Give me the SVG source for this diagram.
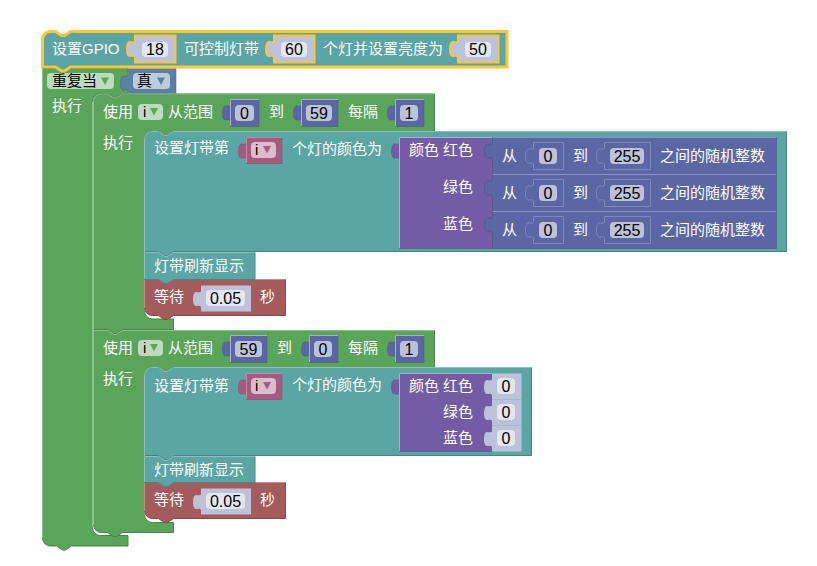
<svg xmlns="http://www.w3.org/2000/svg" width="817" height="566" viewBox="0 0 817 566">
<style>
text{font-family:"Liberation Sans","Noto Sans CJK SC",sans-serif;font-size:15px;fill:#fff;white-space:pre}
text.f{fill:#000}
text.c{text-anchor:middle;font-size:16px}
.g{fill:#5ba55b;stroke:#498449}
.t{fill:#5ba5a5;stroke:#498484}
.m{fill:#5b67a5;stroke:#495284;stroke-opacity:.5}
.n{fill:#5b67a5;stroke:#8088bb}
.p{fill:#745ba5;stroke:#5d4984;stroke-opacity:.5}
.r{fill:#a55b5b;stroke:#844949}
.v{fill:#a55b80;stroke:#844966;stroke-opacity:.5}
.l{fill:#5b80a5;stroke:#496684;stroke-opacity:.5}
.s{fill:#bdc2db;stroke:none}
.hg,.ht,.hm,.hp,.hr,.hv,.hl,.hs,.hn{fill:none}
.hg{stroke:#8cc08c}.ht{stroke:#8cc0c0}.hm{stroke:#a9afd0}.hn{stroke:#8c95c0}.hp{stroke:#b5a8d2}.hr{stroke:#c08c8c}.hv{stroke:#c08ca6}.hl{stroke:#8ca6c0}.hs{stroke:#dfe1ee}
.y{fill:none;stroke:#fcc63a;stroke-width:3}
.fg{fill:#bddbbd}.fl{fill:#bdccdb}.fv{fill:#dbbdcc}.fm{fill:#bdc2db}.fs{fill:#e4e6f1}
.ag{fill:#5ba55b}.al{fill:#5b80a5}.av{fill:#a55b80}
</style>
<g id="repeat">
<path class="g" d="M42.500,68.500H128V93.500H122.500l-6,4-3,0-6,-4H100.500a8,8 0 0 0 -8,8V527.500a8,8 0 0 0 8,8H128V546H71.500l-6,4-3,0-6,-4H50.500a8,8 0 0 1 -8,-8Z"/>
<path class="hg" d="M42.500,68.500V538"/>
<path class="hg" d="M92.500,102V527"/>
<rect class="fg" x="47" y="73" width="67" height="16" rx="4"/>
<text class="f" x="52" y="86">重复当</text>
<polygon class="ag" points="101,77.500 109,77.500 105,85"/>
<text x="52" y="111">执行</text>
</g>
<g id="cond">
<path class="l" d="M128.500,68.500h47.500v25h-47.500V91c-1,-2 -3,-1 -5,-1c-2,0 -3,-3 -3,-6.500c0,-4 1,-7.500 3,-7.500c2,0 5,1 5,-1z"/>
<rect class="fl" x="133" y="73" width="37" height="16" rx="4"/>
<text class="f" x="137" y="86">真</text>
<polygon class="al" points="157,77.500 165,77.500 161,85"/>
</g>
<g id="for1">
<path class="g" d="M93.500,102a8,8 0 0 1 8,-8H107.500l6,4 3,0 6,-4H434.500V131.500H173.500l-6,4-3,0-6,-4H152.500a8,8 0 0 0 -8,8V311a8,8 0 0 0 8,8H173.500V329.500H122.500l-6,4-3,0-6,-4H93.500Z"/>
<path class="hg" d="M93.500,330V102a8,8 0 0 1 8,-8H107.500l6,4 3,0 6,-4H434"/>
<path class="hg" d="M144.500,139V311"/>
<text x="103" y="117">使用</text>
<rect class="fg" x="138" y="104" width="25" height="16" rx="4"/>
<text class="f" x="143" y="117">i</text>
<polygon class="ag" points="150,108 158,108 154,115.500"/>
<text x="168" y="117">从范围</text>
<path class="m" d="M230.500,99.500h28.500v27h-28.500V121c-1,-2 -3,-1 -5,-1c-2,0 -3,-3 -3,-6.500c0,-4 1,-7.500 3,-7.500c2,0 5,1 5,-1z"/><path class="hm" d="M230.500,126V99.500H259"/>
<rect class="fm" x="235" y="105" width="19" height="16" rx="4"/><text class="f c" x="244.500" y="119">0</text>
<text x="269" y="117">到</text>
<path class="m" d="M301.500,99.500h36.500v27h-36.500V121c-1,-2 -3,-1 -5,-1c-2,0 -3,-3 -3,-6.500c0,-4 1,-7.500 3,-7.500c2,0 5,1 5,-1z"/><path class="hm" d="M301.500,126V99.500H338"/>
<rect class="fm" x="306" y="105" width="26" height="16" rx="4"/><text class="f c" x="319" y="119">59</text>
<text x="348" y="117">每隔</text>
<path class="m" d="M395.500,99.500h28.500v27h-28.500V121c-1,-2 -3,-1 -5,-1c-2,0 -3,-3 -3,-6.500c0,-4 1,-7.500 3,-7.500c2,0 5,1 5,-1z"/><path class="hm" d="M395.500,126V99.500H424"/>
<rect class="fm" x="400" y="105" width="18" height="16" rx="4"/><text class="f c" x="409" y="119">1</text>
<text x="103" y="148">执行</text>
</g>
<g id="setpixel1">
<path class="t" d="M144.500,139.500a8,8 0 0 1 8,-8H158.500l6,4 3,0 6,-4H786.500V251.500H173.500l-6,4-3,0-6,-4H144.500Z"/>
<path class="ht" d="M144.500,252V139.500a8,8 0 0 1 8,-8H158.500l6,4 3,0 6,-4H786"/>
<text x="154" y="153">设置灯带第</text>
<path class="v" d="M246.500,137.500h35.500v26h-35.500V159c-1,-2 -3,-1 -5,-1c-2,0 -3,-3 -3,-6.500c0,-4 1,-7.500 3,-7.500c2,0 5,1 5,-1z"/><path class="hv" d="M246.500,163V137.500H282"/>
<rect class="fv" x="251" y="142" width="25" height="16" rx="4"/><text class="f" x="255" y="155">i</text>
<polygon class="av" points="263,146 271,146 267,153.500"/>
<text x="292" y="154">个灯的颜色为</text>
</g>
<g id="colour1">
<path class="p" d="M399.500,137.500H492.500V248.500H399.500V159c-1,-2 -3,-1 -5,-1c-2,0 -3,-3 -3,-6.500c0,-4 1,-7.500 3,-7.500c2,0 5,1 5,-1z"/><path class="hp" d="M399.500,248V137.500H492"/>
<text x="409" y="155">颜色</text><text x="443" y="155">红色</text>
<text x="443" y="192">绿色</text>
<text x="443" y="229">蓝色</text>
</g>
<g id="random1">
<path class="m" d="M492.500,137.500H776.500V174.500H492.500V159c-1,-2 -3,-1 -5,-1c-2,0 -3,-3 -3,-6.500c0,-4 1,-7.500 3,-7.500c2,0 5,1 5,-1z"/><path class="hn" d="M492.500,137.500H776"/>
<text x="502" y="161">从</text>
<path class="n" d="M533.500,142.500h30v27h-30V164c-1,-2 -3,-1 -5,-1c-2,0 -3,-3 -3,-6.500c0,-4 1,-7.500 3,-7.500c2,0 5,1 5,-1z"/>
<rect class="fm" x="539" y="148" width="18" height="16" rx="4"/><text class="f c" x="548" y="162">0</text>
<text x="573" y="161">到</text>
<path class="n" d="M604.500,142.500h46v27h-46V164c-1,-2 -3,-1 -5,-1c-2,0 -3,-3 -3,-6.500c0,-4 1,-7.500 3,-7.500c2,0 5,1 5,-1z"/>
<rect class="fm" x="610" y="148" width="34" height="16" rx="4"/><text class="f c" x="627" y="162">255</text>
<text x="660" y="161">之间的随机整数</text>
</g>
<g id="random2">
<path class="m" d="M492.500,174.500H776.500V211.500H492.500V196c-1,-2 -3,-1 -5,-1c-2,0 -3,-3 -3,-6.500c0,-4 1,-7.500 3,-7.500c2,0 5,1 5,-1z"/><path class="hn" d="M492.500,174.500H776"/>
<text x="502" y="198">从</text>
<path class="n" d="M533.500,179.500h30v27h-30V201c-1,-2 -3,-1 -5,-1c-2,0 -3,-3 -3,-6.500c0,-4 1,-7.500 3,-7.500c2,0 5,1 5,-1z"/>
<rect class="fm" x="539" y="185" width="18" height="16" rx="4"/><text class="f c" x="548" y="199">0</text>
<text x="573" y="198">到</text>
<path class="n" d="M604.500,179.500h46v27h-46V201c-1,-2 -3,-1 -5,-1c-2,0 -3,-3 -3,-6.500c0,-4 1,-7.500 3,-7.500c2,0 5,1 5,-1z"/>
<rect class="fm" x="610" y="185" width="34" height="16" rx="4"/><text class="f c" x="627" y="199">255</text>
<text x="660" y="198">之间的随机整数</text>
</g>
<g id="random3">
<path class="m" d="M492.500,211.500H776.500V248.500H492.500V233c-1,-2 -3,-1 -5,-1c-2,0 -3,-3 -3,-6.500c0,-4 1,-7.500 3,-7.500c2,0 5,1 5,-1z"/><path class="hn" d="M492.500,211.500H776"/>
<text x="502" y="235">从</text>
<path class="n" d="M533.500,216.500h30v27h-30V238c-1,-2 -3,-1 -5,-1c-2,0 -3,-3 -3,-6.500c0,-4 1,-7.500 3,-7.500c2,0 5,1 5,-1z"/>
<rect class="fm" x="539" y="222" width="18" height="16" rx="4"/><text class="f c" x="548" y="236">0</text>
<text x="573" y="235">到</text>
<path class="n" d="M604.500,216.500h46v27h-46V238c-1,-2 -3,-1 -5,-1c-2,0 -3,-3 -3,-6.500c0,-4 1,-7.500 3,-7.500c2,0 5,1 5,-1z"/>
<rect class="fm" x="610" y="222" width="34" height="16" rx="4"/><text class="f c" x="627" y="236">255</text>
<text x="660" y="235">之间的随机整数</text>
</g>
<g id="wait1">
<path class="r" d="M144.500,279.500H158.500l6,4 3,0 6,-4H285.500V315.500H173.500l-6,4-3,0-6,-4H152.500a8,8 0 0 1 -8,-8Z"/>
<path class="hr" d="M144.500,308V279.500H158.500l6,4 3,0 6,-4H285"/>
<text x="154" y="302">等待</text>
<path class="s" d="M201,285.500h50v26h-50V307c-1,-2 -3,-1 -5,-1c-2,0 -3,-3 -3,-6.500c0,-4 1,-7.500 3,-7.500c2,0 5,1 5,-1z"/>
<rect class="fs" x="206" y="290" width="39" height="16" rx="4"/><text class="f c" x="225.500" y="304">0.05</text>
<text x="260" y="302">秒</text>
</g>
<g id="show1">
<path class="t" d="M144.500,252.500H158.500l6,4 3,0 6,-4H255V279.500H173.500l-6,4-3,0-6,-4H144.500Z"/>
<path class="ht" d="M144.500,279V252.500H158.500l6,4 3,0 6,-4H254.500"/>
<text x="154" y="271">灯带刷新显示</text>
</g>
<g id="for2">
<path class="g" d="M93.500,330.500H107.500l6,4 3,0 6,-4H434.500V367.500H173.500l-6,4-3,0-6,-4H152.500a8,8 0 0 0 -8,8V514.500a8,8 0 0 0 8,8H173.500V532.500H122.500l-6,4-3,0-6,-4H101.500a8,8 0 0 1 -8,-8Z"/>
<path class="hg" d="M93.500,525V330.500H107.500l6,4 3,0 6,-4H434"/>
<path class="hg" d="M144.500,375V515"/>
<text x="103" y="353">使用</text>
<rect class="fg" x="138" y="340" width="25" height="16" rx="4"/>
<text class="f" x="143" y="353">i</text>
<polygon class="ag" points="150,344 158,344 154,351.500"/>
<text x="168" y="353">从范围</text>
<path class="m" d="M230.500,335.500h36.500v27h-36.500V357c-1,-2 -3,-1 -5,-1c-2,0 -3,-3 -3,-6.500c0,-4 1,-7.500 3,-7.500c2,0 5,1 5,-1z"/><path class="hm" d="M230.500,362V335.500H267"/>
<rect class="fm" x="235" y="341" width="27" height="16" rx="4"/><text class="f c" x="248.500" y="355">59</text>
<text x="277" y="353">到</text>
<path class="m" d="M309.500,335.500h28.500v27h-28.500V357c-1,-2 -3,-1 -5,-1c-2,0 -3,-3 -3,-6.500c0,-4 1,-7.500 3,-7.500c2,0 5,1 5,-1z"/><path class="hm" d="M309.500,362V335.500H338"/>
<rect class="fm" x="314" y="341" width="18" height="16" rx="4"/><text class="f c" x="323" y="355">0</text>
<text x="348" y="353">每隔</text>
<path class="m" d="M395.500,335.500h28.500v27h-28.500V357c-1,-2 -3,-1 -5,-1c-2,0 -3,-3 -3,-6.500c0,-4 1,-7.500 3,-7.500c2,0 5,1 5,-1z"/><path class="hm" d="M395.500,362V335.500H424"/>
<rect class="fm" x="400" y="341" width="18" height="16" rx="4"/><text class="f c" x="409" y="355">1</text>
<text x="103" y="384">执行</text>
</g>
<g id="setpixel2">
<path class="t" d="M144.500,375.500a8,8 0 0 1 8,-8H158.500l6,4 3,0 6,-4H531.500V455.500H173.500l-6,4-3,0-6,-4H144.500Z"/>
<path class="ht" d="M144.500,456V375.500a8,8 0 0 1 8,-8H158.500l6,4 3,0 6,-4H531"/>
<text x="154" y="391">设置灯带第</text>
<path class="v" d="M246.500,373.500h35.500v26h-35.500V395c-1,-2 -3,-1 -5,-1c-2,0 -3,-3 -3,-6.500c0,-4 1,-7.500 3,-7.500c2,0 5,1 5,-1z"/><path class="hv" d="M246.500,399V373.500H282"/>
<rect class="fv" x="251" y="378" width="25" height="16" rx="4"/><text class="f" x="255" y="391">i</text>
<polygon class="av" points="263,382 271,382 267,389.500"/>
<text x="292" y="390">个灯的颜色为</text>
</g>
<g id="colour2">
<path class="p" d="M399.500,373.500H492.500V451.500H399.500V395c-1,-2 -3,-1 -5,-1c-2,0 -3,-3 -3,-6.500c0,-4 1,-7.500 3,-7.500c2,0 5,1 5,-1z"/><path class="hp" d="M399.500,451V373.500H492"/>
<text x="409" y="391">颜色</text><text x="443" y="391">红色</text>
<text x="443" y="417">绿色</text>
<text x="443" y="443">蓝色</text>
<path class="s" d="M492,373.500h29.500v26h-29.500V395c-1,-2 -3,-1 -5,-1c-2,0 -3,-3 -3,-6.500c0,-4 1,-7.500 3,-7.500c2,0 5,1 5,-1z"/>
<rect class="fs" x="497" y="378" width="18" height="16" rx="4"/><text class="f c" x="506" y="392">0</text>
<path class="s" d="M492,399.500h29.500v26h-29.500V421c-1,-2 -3,-1 -5,-1c-2,0 -3,-3 -3,-6.500c0,-4 1,-7.500 3,-7.500c2,0 5,1 5,-1z"/>
<rect class="fs" x="497" y="404" width="18" height="16" rx="4"/><text class="f c" x="506" y="418">0</text>
<path class="s" d="M492,425.500h29.500v26h-29.500V447c-1,-2 -3,-1 -5,-1c-2,0 -3,-3 -3,-6.500c0,-4 1,-7.500 3,-7.500c2,0 5,1 5,-1z"/>
<rect class="fs" x="497" y="430" width="18" height="16" rx="4"/><text class="f c" x="506" y="444">0</text>
</g>
<g id="wait2">
<path class="r" d="M144.500,482.500H158.500l6,4 3,0 6,-4H285.500V518.500H173.500l-6,4-3,0-6,-4H152.500a8,8 0 0 1 -8,-8Z"/>
<path class="hr" d="M144.500,511V482.500H158.500l6,4 3,0 6,-4H285"/>
<text x="154" y="505">等待</text>
<path class="s" d="M201,488.500h50v26h-50V510c-1,-2 -3,-1 -5,-1c-2,0 -3,-3 -3,-6.500c0,-4 1,-7.500 3,-7.500c2,0 5,1 5,-1z"/>
<rect class="fs" x="206" y="493" width="39" height="16" rx="4"/><text class="f c" x="225.500" y="507">0.05</text>
<text x="260" y="505">秒</text>
</g>
<g id="show2">
<path class="t" d="M144.500,456.500H158.500l6,4 3,0 6,-4H255V482.500H173.500l-6,4-3,0-6,-4H144.500Z"/>
<path class="ht" d="M144.500,482V456.500H158.500l6,4 3,0 6,-4H254.500"/>
<text x="154" y="475">灯带刷新显示</text>
</g>
<g id="init">
<path class="t" style="stroke:none" d="M42.500,39.500a8,8 0 0 1 8,-8H55.500l6,4 3,0 6,-4H507V67H70.500l-6,4-3,0-6,-4H42.500Z"/>
<path class="y" d="M42.500,39.500a8,8 0 0 1 8,-8H55.500l6,4 3,0 6,-4H507V67H70.500l-6,4-3,0-6,-4H42.500Z"/>
<text x="52" y="54">设置GPIO</text>
<path class="s" d="M135,35.500h40.500v27h-40.500V57c-1,-2 -3,-1 -5,-1c-2,0 -3,-3 -3,-6.500c0,-4 1,-7.500 3,-7.500c2,0 5,1 5,-1z"/>
<path class="y" style="stroke-width:2" d="M135,35.500h40.500v27h-40.500V57c-1,-2 -3,-1 -5,-1c-2,0 -3,-3 -3,-6.500c0,-4 1,-7.500 3,-7.500c2,0 5,1 5,-1z"/>
<rect class="fs" x="142" y="42" width="26" height="15" rx="4"/><text class="f c" x="155" y="55">18</text>
<text x="184" y="54">可控制灯带</text>
<path class="s" d="M274,35.500h40.500v27h-40.500V57c-1,-2 -3,-1 -5,-1c-2,0 -3,-3 -3,-6.500c0,-4 1,-7.500 3,-7.500c2,0 5,1 5,-1z"/>
<path class="y" style="stroke-width:2" d="M274,35.500h40.500v27h-40.500V57c-1,-2 -3,-1 -5,-1c-2,0 -3,-3 -3,-6.500c0,-4 1,-7.500 3,-7.500c2,0 5,1 5,-1z"/>
<rect class="fs" x="281" y="42" width="26" height="15" rx="4"/><text class="f c" x="294" y="55">60</text>
<text x="323" y="54">个灯并设置亮度为</text>
<path class="s" d="M458,35.500h40.500v27h-40.500V57c-1,-2 -3,-1 -5,-1c-2,0 -3,-3 -3,-6.500c0,-4 1,-7.500 3,-7.500c2,0 5,1 5,-1z"/>
<path class="y" style="stroke-width:2" d="M458,35.500h40.500v27h-40.500V57c-1,-2 -3,-1 -5,-1c-2,0 -3,-3 -3,-6.500c0,-4 1,-7.500 3,-7.500c2,0 5,1 5,-1z"/>
<rect class="fs" x="465" y="42" width="26" height="15" rx="4"/><text class="f c" x="478" y="55">50</text>
</g>
<g id="connectors"></g>
</svg>
